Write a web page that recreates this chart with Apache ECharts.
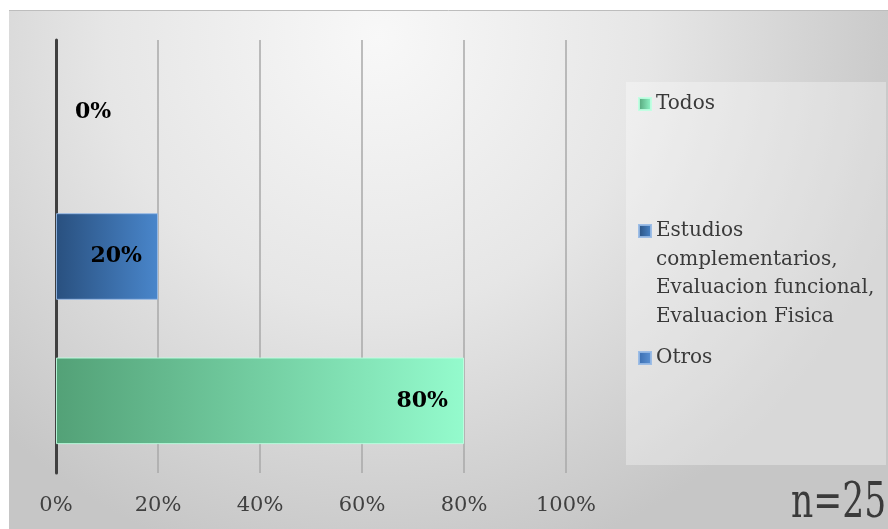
<!DOCTYPE html>
<html>
<head>
<meta charset="utf-8">
<script src="https://cdn.jsdelivr.net/npm/echarts@6/dist/echarts.min.js"></script>
<style>
  html, body { margin: 0; padding: 0; background: #ffffff; }
  #chart { width: 888px; height: 529px; }
</style>
</head>
<body>
<div id="chart"></div>
<script>
// Categories, bottom to top on the vertical axis
const categories = [
  'Todos',
  'Estudios complementarios, Evaluacion funcional, Evaluacion Fisica',
  'Otros'
];
// Legend text, wrapped as in the legend box
const legendLabels = [
  'Todos',
  'Estudios\ncomplementarios,\nEvaluacion funcional,\nEvaluacion Fisica',
  'Otros'
];
// Share of answers per category (%)
const percentValues = [80, 20, 0];
// Horizontal axis ticks (%)
const xTicks = [0, 20, 40, 60, 80, 100];
// Sample size note
const sampleNote = 'n=25';

const SERIF = '"DejaVu Serif", "Liberation Serif", serif';

// Left-to-right gradient stops for each bar
const barColors = [
  ['#53a177', '#94fbcd'],
  ['#29507f', '#4986cb'],
  ['#3a6daf', '#5d93d6']
];
const barBorders = ['rgba(190,255,225,0.9)', 'rgba(150,185,230,0.9)', 'rgba(150,185,230,0.9)'];

function hGrad(stops) {
  return new echarts.graphic.LinearGradient(0, 0, 1, 0, [
    { offset: 0, color: stops[0] },
    { offset: 1, color: stops[1] }
  ]);
}

const chart = echarts.init(document.getElementById('chart'), null, { renderer: 'canvas' });

const series = categories.map((name, i) => ({
  name: name,
  type: 'bar',
  stack: 'total',
  barWidth: '60%',
  itemStyle: {
    color: hGrad(barColors[i]),
    borderColor: barBorders[i],
    borderWidth: 1
  },
  label: {
    show: true,
    formatter: '{c}%',
    fontFamily: SERIF,
    fontWeight: 'bold',
    fontSize: 22,
    color: '#000000'
  },
  data: percentValues.map((v, j) => j === i
    ? {
        value: v,
        itemStyle: v === 0 ? { borderWidth: 0 } : {},
        label: { position: v === 0 ? 'right' : 'insideRight', distance: v === 0 ? 19 : 16 }
      }
    : null)
}));

// One legend block per entry; the marker sits beside the first text line,
// so multi-line entries get blank lines above to keep the block centred on it.
const legendIconY = [104, 231, 358];
const LINE_H = 28.5;
const legends = categories.map((name, i) => {
  const lines = legendLabels[i].split('\n').length;
  const text = '\n'.repeat(lines - 1) + legendLabels[i];
  const blockH = (2 * lines - 1) * LINE_H;
  return {
    data: [name],
    left: 638,
    top: legendIconY[i] - blockH / 2,
    padding: 0,
    orient: 'vertical',
    icon: 'rect',
    itemWidth: 12,
    itemHeight: 12,
    selectedMode: false,
    formatter: () => text,
    textStyle: {
      fontFamily: SERIF,
      fontSize: 20,
      color: '#3a3a3a',
      lineHeight: LINE_H
    }
  };
});

chart.setOption({
  backgroundColor: '#ffffff',
  animation: false,
  graphic: [
    {
      type: 'rect',
      z: -10,
      shape: { x: 9, y: 10, width: 879, height: 519 },
      style: {
        fill: new echarts.graphic.RadialGradient(0.42, 0.05, 1.05, [
          { offset: 0, color: '#f8f8f8' },
          { offset: 0.5, color: '#e6e6e6' },
          { offset: 1, color: '#c6c6c6' }
        ])
      }
    },
    {
      type: 'line',
      z: -9,
      shape: { x1: 9, y1: 10.5, x2: 888, y2: 10.5 },
      style: { stroke: '#bdbdbd', lineWidth: 1 }
    },
    {
      type: 'rect',
      z: -9,
      shape: { x: 626, y: 82, width: 260, height: 383 },
      style: { fill: 'rgba(255,255,255,0.32)' }
    },
    {
      type: 'text',
      z: 10,
      x: 791,
      y: 505,
      scaleX: 0.72,
      style: {
        text: sampleNote,
        font: '48px ' + SERIF,
        fill: '#3a3a3a',
        verticalAlign: 'middle'
      }
    }
  ],
  legend: legends,
  grid: {
    left: 56,
    right: 322,
    top: 40,
    bottom: 56,
    outerBoundsMode: 'none'
  },
  xAxis: {
    type: 'value',
    min: xTicks[0],
    max: xTicks[xTicks.length - 1],
    interval: xTicks[1] - xTicks[0],
    axisLine: { show: false },
    axisTick: { show: false },
    splitLine: { lineStyle: { color: '#a8a8a8', width: 1.5 } },
    axisLabel: {
      formatter: '{value}%',
      margin: 22,
      fontFamily: SERIF,
      fontSize: 21,
      color: '#404040'
    }
  },
  yAxis: {
    type: 'category',
    data: categories,
    axisLabel: { show: false },
    axisTick: { show: false },
    axisLine: { show: true, lineStyle: { color: '#404040', width: 3 } },
    splitLine: { show: false }
  },
  series: series
});
</script>
</body>
</html>
